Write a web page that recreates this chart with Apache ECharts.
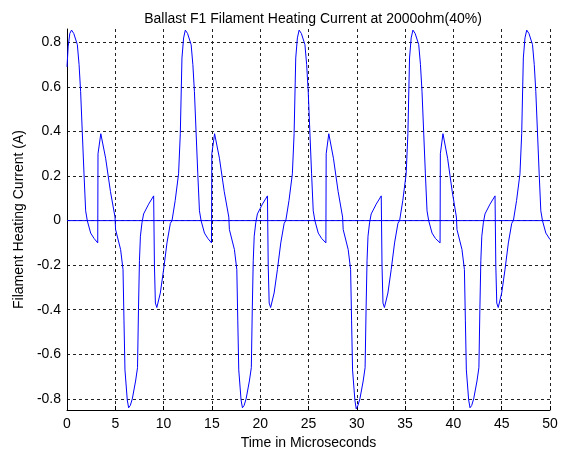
<!DOCTYPE html>
<html>
<head>
<meta charset="utf-8">
<script src="https://cdn.jsdelivr.net/npm/echarts@6/dist/echarts.min.js"></script>
<style>
  html, body { margin: 0; padding: 0; background: #fff; }
  #chart { width: 561px; height: 456px; }
</style>
</head>
<body>
<div id="chart"></div>
<script>
// ---- Data (time in microseconds, current in A) ----
var titleText = 'Ballast F1 Filament Heating Current at 2000ohm(40%)';
var xAxisName = 'Time in Microseconds';
var yAxisName = 'Filament Heating Current (A)';
var xTicks = [0, 5, 10, 15, 20, 25, 30, 35, 40, 45, 50];
var yTicks = [-0.8, -0.6, -0.4, -0.2, 0, 0.2, 0.4, 0.6, 0.8];

var cycle1Time = [0, 0.12, 0.29, 0.47, 0.7, 1.07, 1.25, 1.41, 1.58, 1.76, 1.93, 2.1, 2.45, 2.8, 3.18, 3.21, 3.5, 4.0, 4.5, 4.97, 5.03, 5.55, 5.8, 5.9, 6.0, 6.24, 6.38, 6.55, 6.76, 7.1, 7.3, 7.4, 7.5, 7.6, 7.76, 7.93, 8.45, 8.97, 9.05, 9.15, 9.3, 9.66, 10.0, 10.35, 10.7, 10.87, 11.2, 11.55, 11.73];
var cycle1Current = [0.69, 0.78, 0.84, 0.855, 0.84, 0.79, 0.70, 0.58, 0.40, 0.21, 0.044, 0.0, -0.056, -0.08, -0.10, 0.30, 0.39, 0.28, 0.13, 0.016, -0.04, -0.13, -0.22, -0.45, -0.67, -0.805, -0.84, -0.83, -0.80, -0.72, -0.66, -0.40, -0.18, -0.07, -0.01, 0.03, 0.074, 0.111, -0.20, -0.37, -0.39, -0.325, -0.22, -0.10, -0.012, 0.0, 0.09, 0.21, 0.39];

var cycle2Time = [11.90, 12.07, 12.25, 12.48, 12.85, 13.03, 13.19, 13.36, 13.54, 13.71, 13.88, 14.23, 14.58, 14.96, 14.99, 15.28, 15.78, 16.28, 16.75, 16.81, 17.33, 17.58, 17.68, 17.78, 18.02, 18.16, 18.33, 18.54, 18.88, 19.08, 19.18, 19.28, 19.38, 19.54, 19.71, 20.23, 20.75, 20.83, 20.93, 21.08, 21.44, 21.78, 22.13, 22.48, 22.65, 22.98, 23.33, 23.51];
var cycle2Current = [0.73, 0.82, 0.855, 0.84, 0.79, 0.70, 0.58, 0.40, 0.21, 0.044, 0.0, -0.056, -0.08, -0.10, 0.30, 0.39, 0.28, 0.13, 0.016, -0.04, -0.13, -0.22, -0.45, -0.67, -0.805, -0.84, -0.83, -0.80, -0.72, -0.66, -0.40, -0.18, -0.07, -0.01, 0.03, 0.074, 0.111, -0.20, -0.37, -0.39, -0.325, -0.22, -0.10, -0.012, 0.0, 0.09, 0.21, 0.39];

var cycle3Time = [23.68, 23.85, 24.03, 24.26, 24.63, 24.81, 24.97, 25.14, 25.32, 25.49, 25.66, 26.01, 26.36, 26.80, 26.83, 27.10, 27.58, 28.07, 28.53, 28.59, 29.11, 29.36, 29.46, 29.56, 29.80, 29.94, 30.11, 30.32, 30.66, 30.86, 30.96, 31.06, 31.16, 31.32, 31.49, 32.01, 32.53, 32.61, 32.71, 32.86, 33.22, 33.56, 33.91, 34.26, 34.43, 34.76, 35.11, 35.29];
var cycle3Current = [0.73, 0.82, 0.855, 0.84, 0.79, 0.70, 0.58, 0.40, 0.21, 0.044, 0.0, -0.056, -0.08, -0.10, 0.30, 0.39, 0.28, 0.13, 0.016, -0.04, -0.13, -0.22, -0.45, -0.67, -0.805, -0.845, -0.83, -0.80, -0.72, -0.66, -0.40, -0.18, -0.07, -0.01, 0.03, 0.074, 0.111, -0.20, -0.37, -0.39, -0.325, -0.22, -0.10, -0.012, 0.0, 0.09, 0.21, 0.39];

var cycle4Time = [35.46, 35.63, 35.81, 36.04, 36.41, 36.59, 36.75, 36.92, 37.10, 37.27, 37.44, 37.79, 38.14, 38.62, 38.65, 38.92, 39.40, 39.88, 40.31, 40.37, 40.89, 41.14, 41.24, 41.34, 41.58, 41.72, 41.89, 42.10, 42.44, 42.64, 42.74, 42.84, 42.94, 43.10, 43.27, 43.79, 44.31, 44.39, 44.49, 44.64, 45.00, 45.34, 45.69, 46.04, 46.21, 46.54, 46.89, 47.07];
var cycle4Current = [0.73, 0.82, 0.855, 0.84, 0.79, 0.70, 0.58, 0.40, 0.21, 0.044, 0.0, -0.056, -0.08, -0.10, 0.30, 0.39, 0.28, 0.13, 0.016, -0.04, -0.13, -0.22, -0.45, -0.67, -0.805, -0.84, -0.83, -0.80, -0.72, -0.66, -0.40, -0.18, -0.07, -0.01, 0.03, 0.074, 0.111, -0.20, -0.37, -0.39, -0.325, -0.22, -0.10, -0.012, 0.0, 0.09, 0.21, 0.39];

var cycle5Time = [47.24, 47.41, 47.59, 47.82, 48.19, 48.37, 48.53, 48.70, 48.88, 49.05, 49.22, 49.57, 50.0];
var cycle5Current = [0.73, 0.82, 0.855, 0.84, 0.79, 0.70, 0.58, 0.40, 0.21, 0.044, 0.0, -0.056, -0.085];

var zeroLineTime = [0, 50];
var zeroLineCurrent = [0, 0];

// ---- Build series data ----
function pairs(t, v) { return t.map(function (x, i) { return [x, v[i]]; }); }
var waveData = [].concat(
  pairs(cycle1Time, cycle1Current),
  pairs(cycle2Time, cycle2Current),
  pairs(cycle3Time, cycle3Current),
  pairs(cycle4Time, cycle4Current),
  pairs(cycle5Time, cycle5Current)
);

var FONT = 'Liberation Sans, Arial, sans-serif';
var gridColor = '#222';
var chart = echarts.init(document.getElementById('chart'), null, { renderer: 'canvas' });

function isYTick(v) {
  return yTicks.some(function (t) { return Math.abs(t - v) < 1e-6; });
}

chart.setOption({
  animation: false,
  backgroundColor: '#fff',
  title: {
    text: titleText,
    left: 308,
    top: 7,
    textAlign: 'center',
    textStyle: { fontFamily: FONT, fontSize: 14, fontWeight: 'normal', color: '#000' }
  },
  grid: { left: 67, right: 11, top: 29, bottom: 46, containLabel: false },
  xAxis: {
    type: 'value',
    min: xTicks[0],
    max: xTicks[xTicks.length - 1],
    interval: 5,
    name: xAxisName,
    nameLocation: 'middle',
    nameGap: 25,
    nameTextStyle: { fontFamily: FONT, fontSize: 14, color: '#000' },
    axisLine: { show: true, onZero: false, lineStyle: { color: '#000', width: 1 } },
    axisTick: { show: true, inside: true, length: 4, lineStyle: { color: '#000' } },
    axisLabel: { fontFamily: FONT, fontSize: 14, color: '#000', margin: 7, showMinLabel: true, showMaxLabel: true },
    splitLine: { show: true, lineStyle: { color: gridColor, type: [3, 3], width: 1 } }
  },
  yAxis: {
    type: 'value',
    min: -0.85,
    max: 0.86,
    interval: 0.05,
    name: yAxisName,
    nameLocation: 'middle',
    nameGap: 35,
    nameTextStyle: { fontFamily: FONT, fontSize: 14, color: '#000' },
    axisLine: { show: true, onZero: false, lineStyle: { color: '#000', width: 1 } },
    axisTick: { show: false },
    axisLabel: {
      fontFamily: FONT, fontSize: 14, color: '#000', margin: 6,
      formatter: function (v) {
        if (!isYTick(v)) return '';
        var r = Math.round(v * 10) / 10;
        return r === 0 ? '0' : String(r);
      }
    },
    splitLine: { show: true, lineStyle: { color: ['rgba(0,0,0,0)', gridColor, 'rgba(0,0,0,0)', 'rgba(0,0,0,0)'], type: [3, 3], width: 1 } }
  },
  series: [
    {
      name: 'zero',
      type: 'line',
      data: pairs(zeroLineTime, zeroLineCurrent),
      showSymbol: false,
      symbol: 'none',
      lineStyle: { color: '#0000ff', width: 1 },
      silent: true
    },
    {
      name: 'current',
      type: 'line',
      data: waveData,
      showSymbol: false,
      symbol: 'none',
      smooth: false,
      lineStyle: { color: '#0000ff', width: 1 }
    }
  ]
});
</script>
</body>
</html>
